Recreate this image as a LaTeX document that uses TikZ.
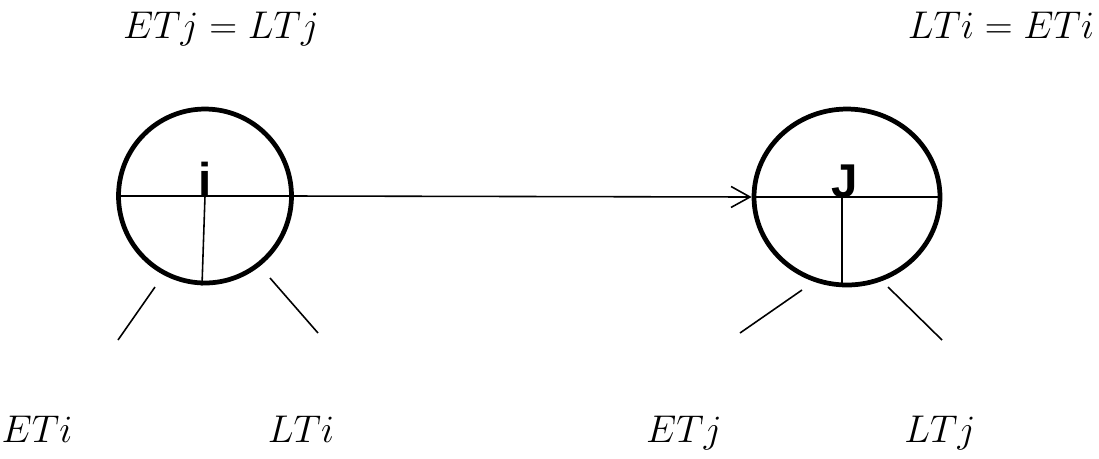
\documentclass[tikz,border=0pt]{standalone}
\usepackage{fix-cm}
\usepackage{fontspec}
\newfontfamily\eventfont{Liberation Sans}
\usetikzlibrary{positioning, shapes.geometric, arrows.meta, calc}

\begin{document}
\begin{tikzpicture}[
                x=0.02cm, y=-0.02cm,
                event/.style={draw=black, line width=2.7pt, ellipse, inner sep=0pt},
                edge/.style={line width=0.9pt},
                timelabel/.style={font=\fontsize{22}{26}\selectfont, inner sep=0pt, anchor=base},
                letter/.style={font=\eventfont\bfseries\fontsize{27}{31}\selectfont, inner sep=0pt, anchor=base}
            ]
            \useasboundingbox (0,0) rectangle (1099,458);

            % Knoten
            \node[event, minimum width=3.46cm, minimum height=3.48cm] (i) at (205,196) {};
            \node[event, minimum width=3.72cm, minimum height=3.52cm] (J) at (847,197) {};
            \node[letter] (ilabel) at (i.center) {i};
            \node[letter] (Jlabel) at ([xshift=-0.04cm]J.center) {J};

            % Kanten zwischen Knoten
            \draw[edge] (i.west) -- (i.east);
            \draw[edge] (J.west) -- (J.east);
            \draw[edge, -{Straight Barb[length=3.8mm, width=4.2mm]}] (i.east) -- (J.west);
            \draw[edge] (i.center) -- ([xshift=-0.06cm]i.south);
            \draw[edge] ([xshift=-0.1cm]J.center) -- ([xshift=-0.1cm]J.south);

            % Striche unter den Knoten
            \draw[edge] (155,287) -- (118,340);
            \draw[edge] (270,278) -- (318,333);
            \draw[edge] (802,290) -- (740,333);
            \draw[edge] (888,287) -- (942,340);

            % Zeiten
            \node[timelabel] (ETi) at (37,442) {$ETi$};
            \node[timelabel] (LTi) at (301,442) {$LTi$};
            \node[timelabel] (ETj) at (684,442) {$ETj$};
            \node[timelabel] (LTj) at (940,442) {$LTj$};
            \node[timelabel] (eqj) at (221,38) {$ETj = LTj$};
            \node[timelabel] (eqi) at (1001,38) {$LTi = ETi$};

        \end{tikzpicture}
\end{document}
